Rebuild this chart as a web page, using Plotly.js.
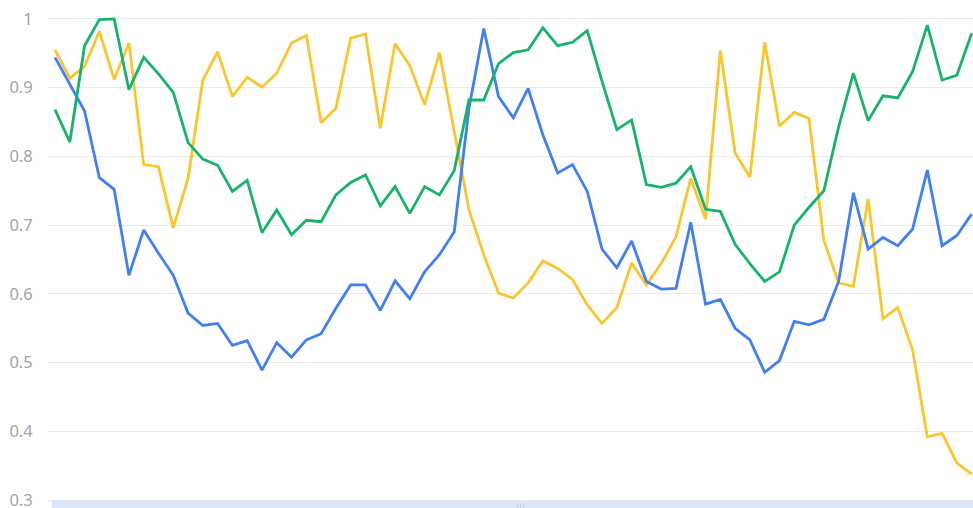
<!DOCTYPE html>
<html>
<head>
<meta charset="utf-8">
<script src="https://cdn.plot.ly/plotly-3.0.1.min.js"></script>
<style>
html,body{margin:0;padding:0;background:#fff;}
#chart{width:973px;height:508px;}
</style>
</head>
<body>
<div id="chart"></div>
<script>
const categories = Array.from({length: 63}, (_, i) => i);

const blueValues = [0.944,0.905,0.866,0.769,0.752,0.627,0.693,0.659,0.627,0.572,
  0.554,0.557,0.525,0.532,0.489,0.529,0.508,0.533,0.542,0.579,
  0.613,0.613,0.576,0.619,0.593,0.632,0.657,0.690,0.870,0.986,
  0.887,0.856,0.899,0.831,0.776,0.788,0.749,0.665,0.638,0.677,
  0.618,0.607,0.608,0.704,0.585,0.592,0.550,0.533,0.486,0.503,
  0.560,0.555,0.563,0.618,0.747,0.665,0.682,0.670,0.694,0.780,
  0.670,0.685,0.716];

const greenValues = [0.868,0.821,0.961,0.999,1.000,0.897,0.944,0.920,0.893,0.820,
  0.796,0.787,0.749,0.765,0.689,0.722,0.686,0.707,0.705,0.744,
  0.762,0.773,0.728,0.756,0.717,0.756,0.744,0.779,0.882,0.882,
  0.935,0.951,0.955,0.987,0.961,0.966,0.983,0.909,0.839,0.853,
  0.759,0.755,0.761,0.785,0.723,0.720,0.672,0.644,0.618,0.632,
  0.700,0.726,0.750,0.843,0.921,0.852,0.888,0.885,0.923,0.991,
  0.911,0.918,0.979];

const yellowValues = [0.955,0.914,0.931,0.982,0.912,0.965,0.788,0.785,0.696,0.768,
  0.911,0.952,0.887,0.915,0.901,0.921,0.965,0.976,0.849,0.870,
  0.972,0.978,0.841,0.964,0.932,0.875,0.951,0.835,0.722,0.657,
  0.601,0.594,0.616,0.648,0.637,0.621,0.584,0.557,0.580,0.645,
  0.613,0.644,0.683,0.768,0.709,0.954,0.805,0.770,0.966,0.844,
  0.864,0.855,0.678,0.616,0.611,0.738,0.564,0.580,0.519,0.392,
  0.397,0.354,0.338];

const yTicks = [0.3,0.4,0.5,0.6,0.7,0.8,0.9,1];
const yTickLabels = ['0.3','0.4','0.5','0.6','0.7','0.8','0.9','1'];

function lineTrace(y, color, name) {
  return {
    x: categories, y: y, type: 'scatter', mode: 'lines', name: name,
    line: {color: color, width: 2.8, shape: 'linear'},
    hoverinfo: 'skip'
  };
}

const data = [
  lineTrace(yellowValues, '#fbc52d', 'yellow'),
  lineTrace(blueValues, '#4080f2', 'blue'),
  lineTrace(greenValues, '#16b36b', 'green')
];

const layout = {
  width: 973, height: 508,
  margin: {l: 48, r: 0, t: 12, b: 1, pad: 0},
  paper_bgcolor: '#ffffff', plot_bgcolor: '#ffffff',
  showlegend: false,
  font: {family: 'Noto Sans, Open Sans, sans-serif', color: '#a3a3a3', size: 16},
  xaxis: {
    type: 'linear', range: [-0.473, 62.09],
    showgrid: false, zeroline: false, showticklabels: false, showline: false, ticks: ''
  },
  yaxis: {
    range: [0.29, 1.01],
    tickvals: yTicks, ticktext: yTickLabels,
    showgrid: true, gridcolor: '#ebebeb', gridwidth: 1.2,
    zeroline: false, showline: false,
    ticks: 'outside', ticklen: 11, tickcolor: 'rgba(0,0,0,0)',
    ticklabeloverflow: 'allow',
    tickfont: {size: 16.5, color: '#a3a3a3'}
  },
  shapes: [
    {type: 'rect', xref: 'paper', yref: 'paper', x0: 0.004, x1: 1.0,
     y0: -0.02, y1: 0.0136, fillcolor: '#dde6f6', line: {width: 0}, layer: 'above'},
    {type: 'line', xref: 'x', yref: 'paper', x0: 31.3, x1: 31.3, y0: -0.01, y1: 0.008,
     line: {color: '#c5cfe0', width: 1}, layer: 'above'},
    {type: 'line', xref: 'x', yref: 'paper', x0: 31.5, x1: 31.5, y0: -0.01, y1: 0.008,
     line: {color: '#c5cfe0', width: 1}, layer: 'above'},
    {type: 'line', xref: 'x', yref: 'paper', x0: 31.7, x1: 31.7, y0: -0.01, y1: 0.008,
     line: {color: '#c5cfe0', width: 1}, layer: 'above'}
  ]
};

Plotly.newPlot('chart', data, layout, {displayModeBar: false, staticPlot: true});
</script>
</body>
</html>
